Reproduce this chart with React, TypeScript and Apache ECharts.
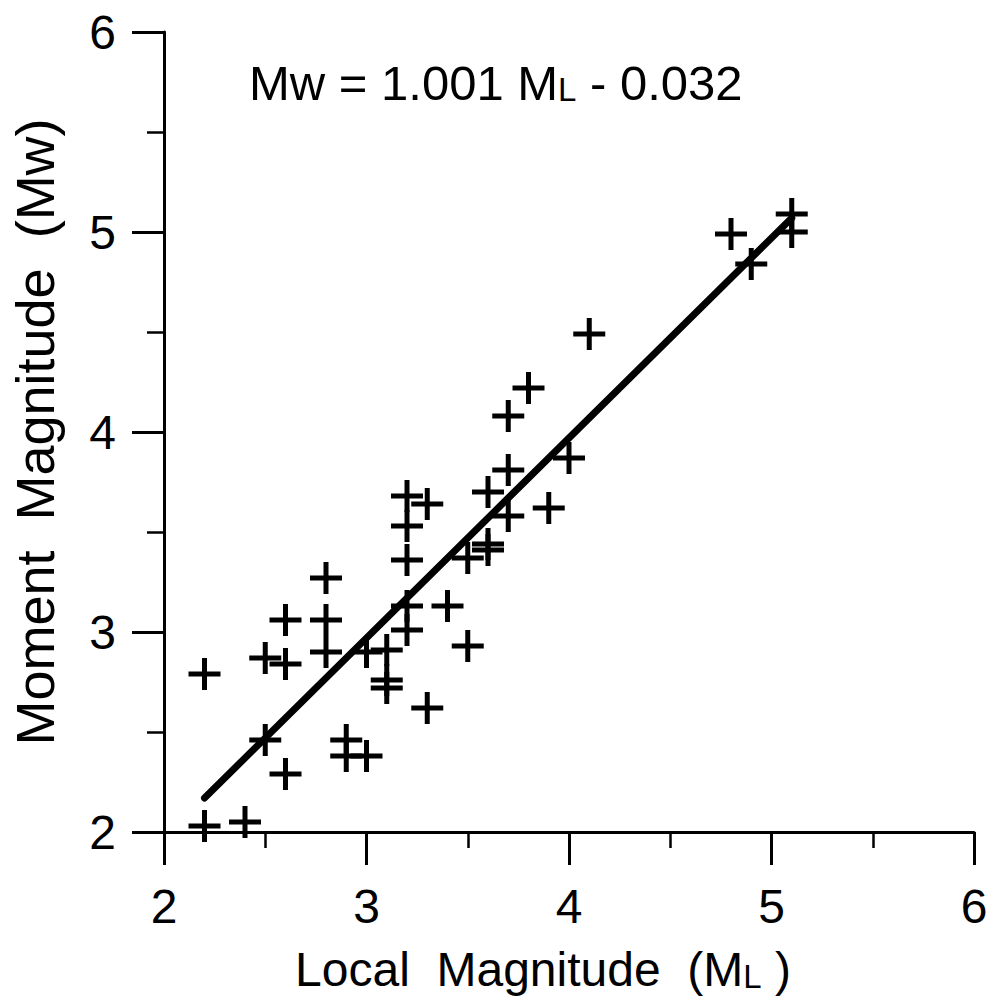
import React, { useEffect, useRef } from "react";
import * as echarts from "echarts";

const localMag: number[] = [
  2.2, 2.2, 2.4, 2.5, 2.6, 2.5, 2.6, 2.6, 2.8, 2.8, 2.8, 2.9, 2.9, 3.0, 3.0,
  3.1, 3.1, 3.1, 3.3, 3.2, 3.3, 3.2, 3.2, 3.2, 3.2, 3.4, 3.5, 3.5, 3.6, 3.6,
  3.6, 3.7, 3.7, 3.7, 3.8, 3.9, 4.0, 4.1, 4.8, 4.9, 5.1, 5.1,
];
const momentMag: number[] = [
  2.79, 2.03, 2.05, 2.46, 2.29, 2.87, 2.84, 3.06, 3.27, 3.06, 2.9, 2.46, 2.38,
  2.38, 2.9, 2.91, 2.76, 2.72, 2.62, 3.68, 3.64, 3.53, 3.36, 3.13, 3.01, 3.13,
  2.93, 3.37, 3.44, 3.41, 3.7, 3.58, 3.81, 4.08, 4.22, 3.62, 3.87, 4.49, 4.99,
  4.84, 5.09, 5.0,
];
const fitX: number[] = [2.2, 5.1];
const fitY: number[] = [2.17, 5.07];
const tickValues: number[] = [2, 3, 4, 5, 6];
const equationText = "Mw = 1.001 M{sub|L} - 0.032";
const xTitle = "Local  Magnitude  (M{sub|L} )";
const yTitle = "Moment  Magnitude  (Mw)";

const FONT = "'Liberation Sans', Arial, Helvetica, sans-serif";
const PLUS =
  "path://M13.5,0H18.5V13.5H32V18.5H18.5V32H13.5V18.5H0V13.5H13.5Z";

export default function App() {
  const ref = useRef<HTMLDivElement>(null);
  useEffect(() => {
    if (!ref.current) return;
    const chart = echarts.init(ref.current, undefined, { renderer: "svg" });
    const axisCommon = {
      type: "value" as const,
      min: tickValues[0],
      max: tickValues[tickValues.length - 1],
      interval: 1,
      splitLine: { show: false },
      axisLine: { show: true, lineStyle: { color: "#000", width: 3 } },
      minorTick: {
        show: true,
        splitNumber: 2,
        lineStyle: { color: "#000", width: 2.5 },
      },
      nameLocation: "middle" as const,
    };
    chart.setOption({
      animation: false,
      backgroundColor: "#fff",
      grid: { left: 162, right: 23, top: 32, bottom: 173, containLabel: false },
      xAxis: {
        ...axisCommon,
        axisTick: { show: true, length: 33, lineStyle: { color: "#000", width: 3 } },
        minorTick: { ...axisCommon.minorTick, length: 16 },
        axisLabel: { color: "#000", fontSize: 48, fontFamily: FONT, margin: 50 },
        name: xTitle,
        nameGap: 113,
        nameTextStyle: {
          color: "#000",
          fontSize: 48,
          fontFamily: FONT,
          padding: [0, 52, 0, 0],
          rich: {
            sub: { fontSize: 33, fontFamily: FONT, color: "#000", padding: [14, 0, 0, 0] },
          },
        },
      },
      yAxis: {
        ...axisCommon,
        axisTick: { show: true, length: 32, lineStyle: { color: "#000", width: 3 } },
        minorTick: { ...axisCommon.minorTick, length: 17 },
        axisLabel: { color: "#000", fontSize: 48, fontFamily: FONT, margin: 48 },
        name: yTitle,
        nameGap: 102,
        nameTextStyle: { color: "#000", fontSize: 54, fontFamily: FONT },
      },
      graphic: [
        {
          type: "text",
          left: 249,
          top: 58,
          style: {
            text: equationText,
            fill: "#000",
            font: `49px ${FONT}`,
            fontSize: 49,
            fontFamily: FONT,
            rich: {
              sub: { fontSize: 33, fontFamily: FONT, fill: "#000", padding: [14, 0, 0, 0] },
            },
          },
        },
      ],
      series: [
        {
          type: "line",
          data: fitX.map((x, i) => [x, fitY[i]]),
          showSymbol: false,
          symbol: "none",
          lineStyle: { color: "#000", width: 7, cap: "round" },
          z: 3,
        },
        {
          type: "scatter",
          data: localMag.map((x, i) => [x, momentMag[i]]),
          symbol: PLUS,
          symbolSize: 32,
          itemStyle: { color: "#000", opacity: 1 },
          z: 4,
        },
      ],
    });
    return () => chart.dispose();
  }, []);
  return (
    <div
      ref={ref}
      style={{ position: "absolute", left: 0, top: 0, width: 997, height: 1005 }}
    />
  );
}
